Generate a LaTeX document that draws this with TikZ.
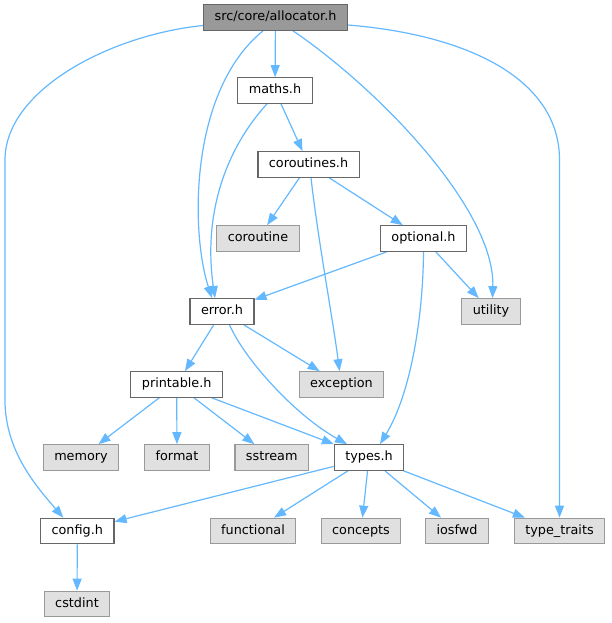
\documentclass[tikz,border=0pt]{standalone}
\usepackage{fontspec}
\setmainfont{DejaVu Sans}
\usepackage{tikz}
\definecolor{white}{rgb}{1.0, 1.0, 1.0}
\definecolor{edgeblue}{RGB}{99,184,255}
\definecolor{rootgray}{RGB}{153,153,153}
\definecolor{darkgray}{RGB}{102,102,102}
\definecolor{extgray}{RGB}{224,224,224}
\usetikzlibrary{arrows.meta}
\pgfdeclarelayer{edgelayer}
\pgfdeclarelayer{nodelayer}
\pgfsetlayers{edgelayer,nodelayer,main}
\tikzstyle{file}=[rectangle,fill=white,draw=darkgray,line width=1.2pt,minimum height=25.5pt,inner xsep=11pt,text height=9.5pt,text depth=2.6pt,font=\fontsize{12.8}{15}\selectfont]
\tikzstyle{root}=[file,fill=rootgray,draw=darkgray]
\tikzstyle{ext}=[file,fill=extgray,draw=rootgray]
\tikzstyle{edge}=[-{Triangle[length=12pt,width=9pt]},draw=edgeblue,line width=1.2pt]

\begin{document}
\begin{tikzpicture}[x=1pt,y=-1pt]
        \useasboundingbox (0,0) rectangle (611,623);
        \begin{pgfonlayer}{nodelayer}
            \node [style = root] (alloc) at (275.5, 17.5) {src/core/allocator.h};
            \node [style = file] (maths) at (275, 90.5) {maths.h};
            \node [style = file] (corout) at (308.5, 164.5) {coroutines.h};
            \node [style = ext] (coroutine) at (258, 238.5) {coroutine};
            \node [style = file] (optional) at (423.5, 238.5) {optional.h};
            \node [style = ext] (utility) at (491, 311.5) {utility};
            \node [style = file] (error) at (222, 311.5) {error.h};
            \node [style = ext] (exception) at (341.5, 384.5) {exception};
            \node [style = file] (printable) at (176.7, 384.5) {printable.h};
            \node [style = ext] (memory) at (81, 457.5) {memory};
            \node [style = ext] (format) at (177, 457.5) {format};
            \node [style = ext] (sstream) at (271.7, 457.5) {sstream};
            \node [style = file] (types) at (369, 457.5) {types.h};
            \node [style = file] (config) at (77.3, 531) {config.h};
            \node [style = ext] (functional) at (253, 531) {functional};
            \node [style = ext] (concepts) at (361, 531) {concepts};
            \node [style = ext] (iosfwd) at (457, 531) {iosfwd};
            \node [style = ext] (typetraits) at (559.5, 531) {type\_traits};
            \node [style = ext] (cstdint) at (77, 604) {cstdint};
        \end{pgfonlayer}

        \begin{pgfonlayer}{edgelayer}
            \draw [edge] (alloc) to (maths);
            \draw [edge] ([xshift=-12.5pt]alloc.south) .. controls (190, 90) and (190, 230) .. ([xshift=-10pt]error.north);
            \draw [edge] ([yshift=-8pt]alloc.west) .. controls (110, 35) and (5, 90) .. (5, 160) -- (5, 400) .. controls (5, 450) and (35, 485) .. ([xshift=-14pt]config.north);
            \draw [edge] ([xshift=17.5pt]alloc.south) .. controls (380, 90) and (495, 210) .. ([xshift=1.5pt]utility.north);
            \draw [edge] ([yshift=-7.5pt]alloc.east) .. controls (470, 35) and (559.5, 80) .. (559.5, 160) -- (typetraits.north);
            \draw [edge] ([xshift=-8pt]maths.south) .. controls (225, 150) and (203, 215) .. ([xshift=-7pt]error.north);
            \draw [edge] (maths) to (corout);
            \draw [edge] (corout) to (coroutine);
            \draw [edge] ([xshift=2.5pt]corout.south) .. controls (318, 240) and (333, 320) .. ([xshift=-2pt]exception.north);
            \draw [edge] (corout) to (optional);
            \draw [edge] (optional) to (error);
            \draw [edge] (optional) to (utility);
            \draw [edge] (optional.south) .. controls (423, 320) and (410, 395) .. ([xshift=11pt]types.north);
            \draw [edge] (error) to (printable);
            \draw [edge] (error) to (exception);
            \draw [edge] ([xshift=7.5pt]error.south) .. controls (245, 360) and (295, 415) .. ([xshift=-22pt]types.north);
            \draw [edge] (printable) to (memory);
            \draw [edge] (printable) to (format);
            \draw [edge] (printable) to (sstream);
            \draw [edge] (printable) to (types);
            \draw [edge] (types) to (config);
            \draw [edge] (types) to (functional);
            \draw [edge] (types) to (concepts);
            \draw [edge] (types) to (iosfwd);
            \draw [edge] (types) to (typetraits);
            \draw [edge] (config) to (cstdint);
        \end{pgfonlayer}
    \end{tikzpicture}
\end{document}
